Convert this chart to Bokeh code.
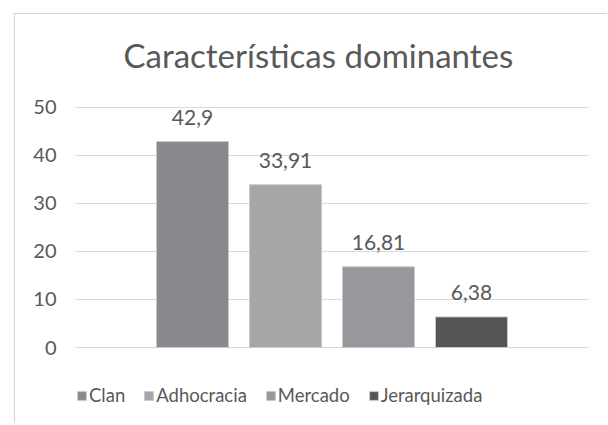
from bokeh.plotting import figure
from bokeh.models import ColumnDataSource, FixedTicker, Legend, LegendItem
from bokeh.embed import file_html
from bokeh.resources import INLINE

series = ["Clan", "Adhocracia", "Mercado", "Jerarquizada"]
values = [42.9, 33.91, 16.81, 6.38]
labels = ["42,9", "33,91", "16,81", "6,38"]
colors = ["#88898c", "#a5a6a8", "#97989b", "#555557"]
yticks = [0, 10, 20, 30, 40, 50]

FONT = "Lato"
TXT = "#595959"

src = ColumnDataSource(dict(x=list(range(len(series))), top=values, name=series,
                            label=labels, color=colors))

p = figure(width=593, height=410, output_backend="svg", toolbar_location=None,
           x_range=(-1.258, 4.258), y_range=(-16.04, 55.83),
           x_axis_location=None, min_border_left=60, min_border_right=20,
           min_border_top=65, min_border_bottom=0,
           title="Características dominantes",
           margin=(13, 0, 0, 14),
           styles={"border-left": "1px solid #d4d4d4", "border-top": "1px solid #d4d4d4"})

p.title.align = "left"
p.title.text_font = FONT
p.title.text_font_size = "33px"
p.title.text_font_style = "normal"
p.title.text_color = TXT
p.title.offset = 48

p.outline_line_color = None
p.background_fill_color = "white"
p.border_fill_color = "white"
p.xgrid.visible = False
p.ygrid.grid_line_color = "#d9d9d9"
p.ygrid.grid_line_width = 1
p.yaxis.ticker = FixedTicker(ticks=yticks)
p.yaxis.axis_line_color = None
p.yaxis.major_tick_line_color = None
p.yaxis.minor_tick_line_color = None
p.yaxis.major_label_standoff = 13
p.yaxis.major_label_text_font = FONT
p.yaxis.major_label_text_font_size = "20px"
p.yaxis.major_label_text_color = TXT

bars = p.vbar(x="x", top="top", bottom=0, width=0.774, source=src,
              fill_color="color", line_color="#c8c8ca", line_width=1)

p.text(x="x", y="top", text="label", source=src, text_align="center",
       text_baseline="alphabetic", y_offset=-24, text_font={"value": FONT},
       text_font_size="21px", text_color=TXT)

legend = Legend(items=[LegendItem(label={"field": "name"}, renderers=[bars])],
                orientation="horizontal", location=(1, 18),
                glyph_width=11, glyph_height=11, label_text_font=FONT,
                label_text_font_size="18.5px", label_text_color=TXT,
                label_standoff=2, spacing=18, padding=0, margin=0,
                border_line_color=None, background_fill_alpha=0)
p.add_layout(legend, "center")

open("out.html", "w").write(file_html(p, INLINE))
